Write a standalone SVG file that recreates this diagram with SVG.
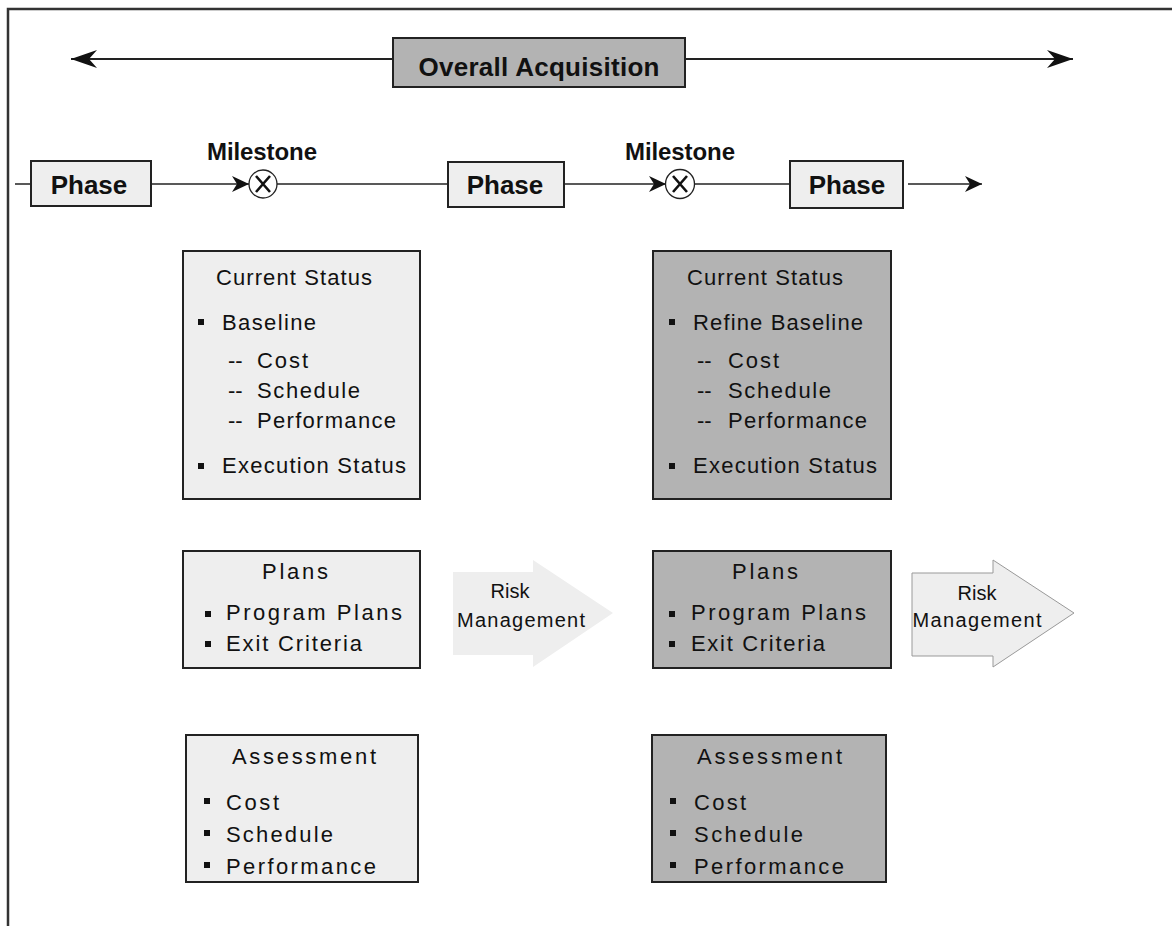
<svg xmlns="http://www.w3.org/2000/svg" width="1172" height="926" viewBox="0 0 1172 926">
<style>
  .t { font-family: "Liberation Sans", Arial, sans-serif; fill: #111; }
  .b { font-weight: bold; }
  .body { font-size: 22px; }
  .risk { font-size: 20px; }
  .light { fill: #eeeeee; stroke: #222; stroke-width: 2; }
  .dark { fill: #b3b3b3; stroke: #222; stroke-width: 2; }
  .ln { stroke: #222; stroke-width: 2; fill: none; }
  .thin { stroke: #222; stroke-width: 1.5; fill: none; }
  .bul { fill: #111; }
</style>
<defs>
  <marker id="bigArrow" markerUnits="userSpaceOnUse" viewBox="0 0 26 18" refX="26" refY="9" markerWidth="26" markerHeight="18" orient="auto-start-reverse">
    <path d="M0,0 L26,9 L0,18 L8,9 Z" fill="#111"/>
  </marker>
  <marker id="smallArrow" markerUnits="userSpaceOnUse" viewBox="0 0 17 16" refX="17" refY="8" markerWidth="17" markerHeight="16" orient="auto">
    <path d="M0,0 L17,8 L0,16 L5,8 Z" fill="#111"/>
  </marker>
</defs>
<rect width="1172" height="926" fill="#fff"/>
<path d="M8,926 V9 H1172" fill="none" stroke="#333" stroke-width="2.5"/>

<g id="connectors">
  <line class="ln" x1="71" y1="59" x2="393" y2="59" marker-start="url(#bigArrow)"/>
  <line class="ln" x1="685" y1="59" x2="1073" y2="59" marker-end="url(#bigArrow)"/>
  <line class="thin" x1="15" y1="184" x2="31" y2="184"/>
  <line class="thin" x1="151" y1="184" x2="249" y2="184" marker-end="url(#smallArrow)"/>
  <line class="thin" x1="277" y1="184" x2="448" y2="184"/>
  <line class="thin" x1="564" y1="184" x2="666" y2="184" marker-end="url(#smallArrow)"/>
  <line class="thin" x1="695" y1="184" x2="790" y2="184"/>
  <line class="thin" x1="908" y1="184" x2="982" y2="184" marker-end="url(#smallArrow)"/>
</g>

<g id="overall">
  <rect class="dark" x="393" y="38" width="292" height="49"/>
  <text class="t b" x="539" y="76" font-size="26" text-anchor="middle" textLength="241" lengthAdjust="spacing">Overall Acquisition</text>
</g>

<g id="phase1">
  <rect class="light" x="31" y="161" width="120" height="45"/>
  <text class="t b" x="89" y="194" font-size="26" text-anchor="middle">Phase</text>
</g>
<g id="phase2">
  <rect class="light" x="448" y="162" width="116" height="45"/>
  <text class="t b" x="505" y="194" font-size="26" text-anchor="middle">Phase</text>
</g>
<g id="phase3">
  <rect class="light" x="790" y="161" width="113" height="47"/>
  <text class="t b" x="847" y="194" font-size="26" text-anchor="middle">Phase</text>
</g>

<g id="milestone1">
  <text class="t b" x="262" y="160" font-size="24" text-anchor="middle" textLength="110" lengthAdjust="spacing">Milestone</text>
  <circle cx="263" cy="184" r="14" fill="#fff" stroke="#222" stroke-width="1.3"/>
  <path d="M256,176 L270,192 M270,176 L256,192" stroke="#111" stroke-width="2.6"/>
</g>
<g id="milestone2">
  <text class="t b" x="680" y="160" font-size="24" text-anchor="middle" textLength="110" lengthAdjust="spacing">Milestone</text>
  <circle cx="680" cy="184" r="14.5" fill="#fff" stroke="#222" stroke-width="1.3"/>
  <path d="M673,176 L687,192 M687,176 L673,192" stroke="#111" stroke-width="2.6"/>
</g>

<g id="status1">
  <rect class="light" x="183" y="251" width="237" height="248"/>
  <text class="t body" x="216" y="285" textLength="156" lengthAdjust="spacing">Current Status</text>
  <rect class="bul" x="198" y="319" width="6" height="6"/>
  <text class="t body" x="222" y="330" textLength="94" lengthAdjust="spacing">Baseline</text>
  <text class="t body" y="368"><tspan x="228">--</tspan><tspan x="257" textLength="51" lengthAdjust="spacing">Cost</tspan></text>
  <text class="t body" y="398"><tspan x="228">--</tspan><tspan x="257" textLength="103" lengthAdjust="spacing">Schedule</tspan></text>
  <text class="t body" y="428"><tspan x="228">--</tspan><tspan x="257" textLength="139" lengthAdjust="spacing">Performance</tspan></text>
  <rect class="bul" x="198" y="463" width="6" height="6"/>
  <text class="t body" x="222" y="473" textLength="184" lengthAdjust="spacing">Execution Status</text>
</g>

<g id="status2">
  <rect class="dark" x="653" y="251" width="238" height="248"/>
  <text class="t body" x="687" y="285" textLength="156" lengthAdjust="spacing">Current Status</text>
  <rect class="bul" x="669" y="319" width="6" height="6"/>
  <text class="t body" x="693" y="330" textLength="170" lengthAdjust="spacing">Refine Baseline</text>
  <text class="t body" y="368"><tspan x="697">--</tspan><tspan x="728" textLength="51" lengthAdjust="spacing">Cost</tspan></text>
  <text class="t body" y="398"><tspan x="697">--</tspan><tspan x="728" textLength="103" lengthAdjust="spacing">Schedule</tspan></text>
  <text class="t body" y="428"><tspan x="697">--</tspan><tspan x="728" textLength="139" lengthAdjust="spacing">Performance</tspan></text>
  <rect class="bul" x="669" y="463" width="6" height="6"/>
  <text class="t body" x="693" y="473" textLength="184" lengthAdjust="spacing">Execution Status</text>
</g>

<g id="plans1">
  <rect class="light" x="183" y="551" width="237" height="117"/>
  <text class="t body" x="295" y="579" text-anchor="middle" textLength="66" lengthAdjust="spacing">Plans</text>
  <rect class="bul" x="205" y="611" width="6" height="6"/>
  <text class="t body" x="226" y="620" textLength="176" lengthAdjust="spacing">Program Plans</text>
  <rect class="bul" x="205" y="641" width="6" height="6"/>
  <text class="t body" x="226" y="651" textLength="136" lengthAdjust="spacing">Exit Criteria</text>
</g>

<g id="plans2">
  <rect class="dark" x="653" y="551" width="238" height="117"/>
  <text class="t body" x="765" y="579" text-anchor="middle" textLength="66" lengthAdjust="spacing">Plans</text>
  <rect class="bul" x="669" y="611" width="6" height="6"/>
  <text class="t body" x="691" y="620" textLength="175" lengthAdjust="spacing">Program Plans</text>
  <rect class="bul" x="669" y="641" width="6" height="6"/>
  <text class="t body" x="691" y="651" textLength="134" lengthAdjust="spacing">Exit Criteria</text>
</g>

<g id="risk1">
  <polygon points="453,572 533,572 533,560 613,613 533,667 533,655 453,655" fill="#eeeeee"/>
  <text class="t risk" x="510" y="598" text-anchor="middle">Risk</text>
  <text class="t risk" x="521" y="627" text-anchor="middle" textLength="128" lengthAdjust="spacing">Management</text>
</g>

<g id="risk2">
  <polygon points="912,573 993,573 993,560 1074,613 993,667 993,656 912,656" fill="#eeeeee" stroke="#999" stroke-width="1"/>
  <text class="t risk" x="977" y="600" text-anchor="middle">Risk</text>
  <text class="t risk" x="977" y="627" text-anchor="middle" textLength="129" lengthAdjust="spacing">Management</text>
</g>

<g id="assess1">
  <rect class="light" x="186" y="735" width="232" height="147"/>
  <text class="t body" x="232" y="764" textLength="144" lengthAdjust="spacing">Assessment</text>
  <rect class="bul" x="204" y="798" width="6" height="6"/>
  <text class="t body" x="226" y="810" textLength="53" lengthAdjust="spacing">Cost</text>
  <rect class="bul" x="204" y="830" width="6" height="6"/>
  <text class="t body" x="226" y="842" textLength="107" lengthAdjust="spacing">Schedule</text>
  <rect class="bul" x="204" y="862" width="6" height="6"/>
  <text class="t body" x="226" y="874" textLength="150" lengthAdjust="spacing">Performance</text>
</g>

<g id="assess2">
  <rect class="dark" x="652" y="735" width="234" height="147"/>
  <text class="t body" x="697" y="764" textLength="145" lengthAdjust="spacing">Assessment</text>
  <rect class="bul" x="670" y="798" width="6" height="6"/>
  <text class="t body" x="694" y="810" textLength="52" lengthAdjust="spacing">Cost</text>
  <rect class="bul" x="670" y="830" width="6" height="6"/>
  <text class="t body" x="694" y="842" textLength="109" lengthAdjust="spacing">Schedule</text>
  <rect class="bul" x="670" y="862" width="6" height="6"/>
  <text class="t body" x="694" y="874" textLength="150" lengthAdjust="spacing">Performance</text>
</g>
</svg>
